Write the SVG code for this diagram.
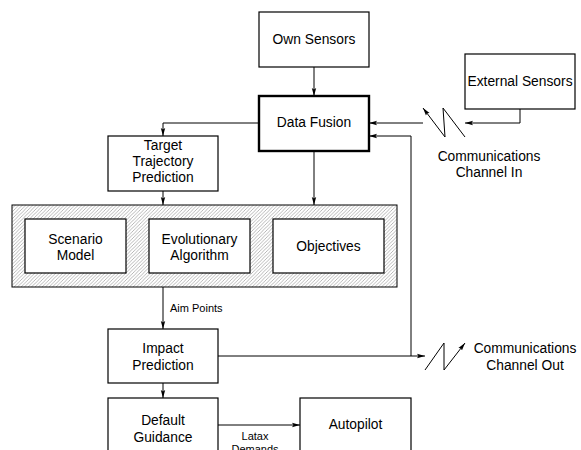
<svg xmlns="http://www.w3.org/2000/svg" width="581" height="450" viewBox="0 0 581 450">
<style>
.box{fill:#fff;stroke:#000;stroke-width:1.2}
.thick{fill:#fff;stroke:#000;stroke-width:2.4}
.t{font-family:"Liberation Sans",Arial,sans-serif;font-size:13.8px;fill:#000;text-anchor:middle}
.s{font-family:"Liberation Sans",Arial,sans-serif;font-size:11px;fill:#000}
.c{fill:none;stroke:#000;stroke-width:1}
</style>
<defs>
<pattern id="hatch" width="3.5" height="3.5" patternUnits="userSpaceOnUse">
<rect width="3.5" height="3.5" fill="#fff"/>
<path d="M-1,1 L1,-1 M0,3.5 L3.5,0 M2.5,4.5 L4.5,2.5" stroke="#999" stroke-width="0.7"/>
</pattern>
<marker id="ah" viewBox="0 0 8 6" refX="8" refY="3" markerWidth="8" markerHeight="6" markerUnits="userSpaceOnUse" orient="auto">
<path d="M0,0.8 L8,3 L0,5.2 L1.5,3 z" fill="#000"/>
</marker>
</defs>
<g id="own-sensors"><rect class="box" x="259" y="12" width="110" height="55"/><text class="t" x="314" y="44">Own Sensors</text></g>
<g id="external-sensors"><rect class="box" x="465" y="54" width="110" height="55"/><text class="t" x="520" y="86">External Sensors</text></g>
<g id="data-fusion"><rect class="thick" x="259" y="96" width="110" height="55"/><text class="t" x="314" y="127">Data Fusion</text></g>
<g id="target-trajectory"><rect class="box" x="108" y="136" width="110" height="55"/><text class="t" x="163" y="150">Target</text><text class="t" x="163" y="166">Trajectory</text><text class="t" x="163" y="182">Prediction</text></g>
<g id="optimiser"><rect x="12" y="205" width="385" height="82" fill="url(#hatch)" stroke="#000" stroke-width="1"/></g>
<g id="scenario-model"><rect class="box" x="25" y="219" width="101" height="54"/><text class="t" x="75.5" y="244">Scenario</text><text class="t" x="75.5" y="260">Model</text></g>
<g id="evolutionary-algorithm"><rect class="box" x="149" y="219" width="101" height="54"/><text class="t" x="199.5" y="244">Evolutionary</text><text class="t" x="199.5" y="260">Algorithm</text></g>
<g id="objectives"><rect class="box" x="273" y="219" width="111" height="54"/><text class="t" x="328.5" y="251">Objectives</text></g>
<g id="impact-prediction"><rect class="box" x="108" y="329" width="110" height="54"/><text class="t" x="163" y="353">Impact</text><text class="t" x="163" y="370">Prediction</text></g>
<g id="default-guidance"><rect class="box" x="108" y="398" width="110" height="70"/><text class="t" x="163" y="425">Default</text><text class="t" x="163" y="442">Guidance</text></g>
<g id="autopilot"><rect class="box" x="300" y="398" width="111" height="70"/><text class="t" x="355.5" y="429">Autopilot</text></g>
<g id="comm-in"><path class="c" d="M445,137 L443,108 L465,137"/><text class="t" x="489" y="161">Communications</text><text class="t" x="489" y="177">Channel In</text></g>
<g id="comm-out"><path class="c" d="M425,370 L444,343 L444,370"/><text class="t" x="525" y="353">Communications</text><text class="t" x="525" y="370">Channel Out</text></g>
<g id="connectors">
<path class="c" d="M314,67 L314,96" marker-end="url(#ah)"/>
<path class="c" d="M520,109 L520,123 L465,123" marker-end="url(#ah)"/>
<path class="c" d="M445,137 L423,108" marker-end="url(#ah)"/>
<path class="c" d="M423,123 L369,123" marker-end="url(#ah)"/>
<path class="c" d="M411,356 L411,136 L369,136" marker-end="url(#ah)"/>
<path class="c" d="M259,123 L163,123 L163,136" marker-end="url(#ah)"/>
<path class="c" d="M163,191 L163,205" marker-end="url(#ah)"/>
<path class="c" d="M314,151 L314,205" marker-end="url(#ah)"/>
<path class="c" d="M163,287 L163,329" marker-end="url(#ah)"/>
<path class="c" d="M218,356 L425,356" marker-end="url(#ah)"/>
<path class="c" d="M444,370 L465,343" marker-end="url(#ah)"/>
<path class="c" d="M163,383 L163,398" marker-end="url(#ah)"/>
<path class="c" d="M218,425 L300,425" marker-end="url(#ah)"/>
<text class="s" x="170" y="312">Aim Points</text>
<text class="s" x="255" y="440" text-anchor="middle">Latax</text>
<text class="s" x="255" y="453" text-anchor="middle">Demands</text>
</g>
</svg>
